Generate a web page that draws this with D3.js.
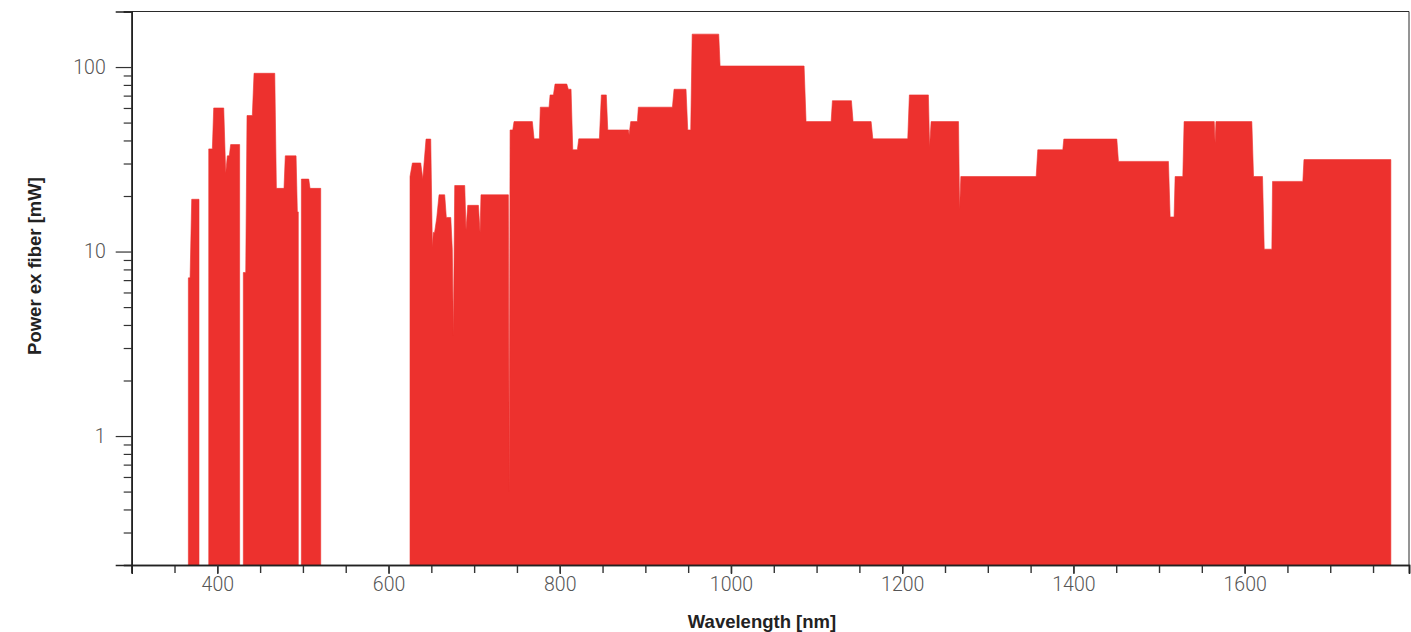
<!DOCTYPE html>
<html><head><meta charset="utf-8">
<script src="https://cdn.jsdelivr.net/npm/d3@7/dist/d3.min.js"></script>
<style>
body{margin:0;background:#fff}
svg{display:block}
.tick text{font-family:Roboto,"Liberation Sans",Arial,sans-serif;font-weight:300;fill:#555;}
</style>
</head><body>
<svg id="chart" width="1411" height="632"></svg>
<script>
// Wavelength [nm] and power ex fiber [mW]; null marks a gap in the spectrum
const wavelength = [
  366.2, 368.2, 370.1, 378.6, null,
  390.0, 394.2, 395.8, 407.5, 409.8, 411.7, 414.0, 415.6, 426.1, null,
  430.4, 433.2, 434.7, 440.9, 442.9, 467.1, 469.0, 477.9, 479.4, 492.0, 493.5, 494.6, null,
  498.2, 506.8, 508.3, 520.8, null,
  625.1, 627.9, 637.6, 640.0, 643.8, 649.3, 651.2, 652.3, 653.8, 656.3, 659.0, 665.6, 667.5, 672.7,
  674.5, 675.8, 677.3, 689.0, 690.5, 692.5, 705.0, 706.9, 708.0, 740.0, 741.0, 742.0, 745.1, 746.6,
  768.0, 770.0, 776.2, 777.3, 787.5, 788.7, 792.6, 794.5, 808.2, 810.0, 813.2, 815.2, 820.6, 822.2,
  846.3, 848.6, 854.4, 856.1, 880.2, 881.0, 882.9, 890.7, 891.8, 931.6, 933.5, 947.5, 949.5, 953.0,
  954.7, 985.7, 987.3, 1085.4, 1087.7, 1117.0, 1118.5, 1140.7, 1142.6, 1163.7, 1165.7, 1206.5, 1208.4,
  1230.6, 1232.0, 1233.8, 1265.8, 1267.0, 1268.5, 1356.5, 1358.4, 1387.6, 1388.8, 1450.7, 1452.6,
  1511.0, 1513.0, 1517.6, 1518.8, 1527.8, 1529.3, 1564.5, 1565.5, 1566.5, 1608.4, 1610.4, 1620.9,
  1622.9, 1631.8, 1632.6, 1668.0, 1669.3, 1770.8
];
const power = [
  7.2, 7.2, 19.2, 19.2, null,
  36, 36, 60, 60, 26.6, 33, 33, 38, 38, null,
  7.7, 7.7, 54.6, 54.6, 92.5, 92.5, 22, 22, 33, 33, 16.4, 16.4, null,
  24.7, 24.7, 22, 22, null,
  25.5, 30.2, 30.2, 24.7, 40.7, 40.7, 10.5, 12.7, 12.7, 15.2, 20.3, 20.3, 15.3, 15.3,
  10.3, 3.5, 22.8, 22.8, 13.1, 17.8, 17.8, 12.7, 20.3, 20.3, 0.5, 45.6, 45.6, 50.6,
  50.6, 40.8, 40.8, 60.6, 60.6, 70.6, 70.6, 80.9, 80.9, 75.8, 75.8, 35.6, 35.6, 40.8,
  40.8, 70.6, 70.6, 45.6, 45.6, 43, 50.6, 50.6, 60.6, 60.6, 75.8, 75.8, 45.6, 45.6,
  150.8, 150.8, 101.3, 101.3, 50.6, 50.6, 65.7, 65.7, 50.6, 50.6, 40.8, 40.8, 70.6,
  70.6, 37, 50.6, 50.6, 16.9, 25.5, 25.5, 35.6, 35.6, 40.7, 40.7, 30.8,
  30.8, 15.4, 15.4, 25.5, 25.5, 50.6, 50.6, 38.7, 50.6, 50.6, 25.5, 25.5,
  10.3, 10.3, 24, 24, 31.5, 31.5
];

const xDomain = [300, 1792];
const yDomain = [0.2, 200];
const xMajorTicks = [400, 600, 800, 1000, 1200, 1400, 1600];
const xMinorTicks = d3.range(300, 1751, 50);
const yMajorTicks = [1, 10, 100];
const yMinorTicks = [0.2,0.3,0.4,0.5,0.6,0.7,0.8,0.9,2,3,4,5,6,7,8,9,20,30,40,50,60,70,80,90,200];
const xTitle = "Wavelength [nm]";
const yTitle = "Power ex fiber [mW]";

const data = wavelength.map((w, i) => ({w, p: power[i]}));

const L = 131.7, R = 1409, T = 11.5, B = 565;
const svg = d3.select("#chart");
const x = d3.scaleLinear().domain(xDomain).range([L, R]);
const y = d3.scaleLog().domain(yDomain).range([B, T]);

const area = d3.area()
  .defined(d => d.w != null && d.p != null)
  .x(d => x(d.w))
  .y0(B)
  .y1(d => y(d.p))
  .curve(d3.curveLinear);

svg.append("path")
  .datum(data)
  .attr("d", area)
  .attr("fill", "#ed312e")
  .attr("stroke", "#ed312e")
  .attr("stroke-width", 0.6)
  .attr("stroke-linejoin", "round");

// frame (top & right)
svg.append("path")
  .attr("d", `M${L},${T}H${R}V${B}`)
  .attr("fill", "none").attr("stroke", "#2a2a2a").attr("stroke-width", 1);

// x axis
const xMinor = svg.append("g").attr("transform", `translate(0,${B})`)
  .call(d3.axisBottom(x).tickValues(xMinorTicks).tickSize(8).tickFormat(""));
const xMajor = svg.append("g").attr("transform", `translate(0,${B})`)
  .call(d3.axisBottom(x).tickValues(xMajorTicks).tickSize(9).tickPadding(3).tickFormat(d3.format("d")));
[xMinor, xMajor].forEach(g => {
  g.select(".domain").attr("stroke", "#222").attr("stroke-width", 1.6);
  g.selectAll(".tick line").attr("stroke", "#333").attr("stroke-width", 1.4);
});
xMajor.selectAll(".tick text").attr("font-size", 19.5);

// y axis
const yMinor = svg.append("g").attr("transform", `translate(${L},0)`)
  .call(d3.axisLeft(y).tickValues(yMinorTicks).tickSize(8).tickFormat(""));
const yMajor = svg.append("g").attr("transform", `translate(${L},0)`)
  .call(d3.axisLeft(y).tickValues(yMajorTicks).tickSize(16).tickPadding(10).tickFormat(d3.format("d")));
[yMinor, yMajor].forEach(g => {
  g.select(".domain").attr("stroke", "#222").attr("stroke-width", 1.6);
  g.selectAll(".tick line").attr("stroke", "#333").attr("stroke-width", 1.2);
});
yMajor.selectAll(".tick text").attr("font-size", 19.5);

// titles
svg.append("text")
  .attr("x", 762).attr("y", 628)
  .attr("text-anchor", "middle")
  .attr("font-family", "'Liberation Sans', Arial, sans-serif")
  .attr("font-weight", "bold").attr("font-size", 18.5).attr("fill", "#222")
  .text(xTitle);
svg.append("text")
  .attr("transform", `translate(41,266) rotate(-90)`)
  .attr("text-anchor", "middle")
  .attr("font-family", "'Liberation Sans', Arial, sans-serif")
  .attr("font-weight", "bold").attr("font-size", 18.5).attr("fill", "#222")
  .text(yTitle);
</script>
</body></html>
